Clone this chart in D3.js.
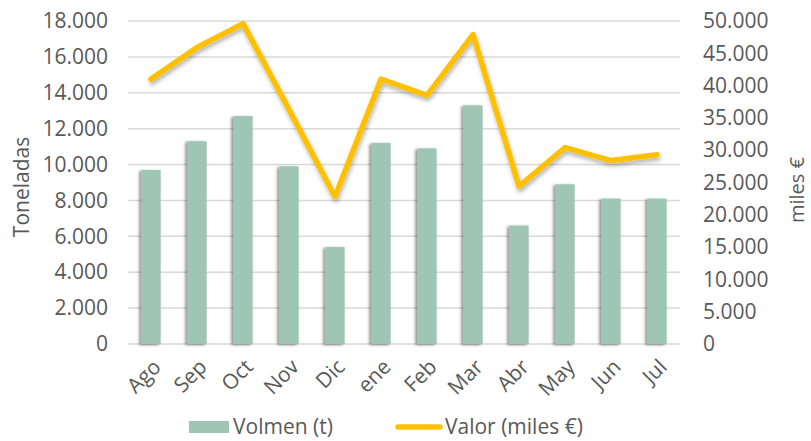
<!DOCTYPE html>
<html>
<head>
<meta charset="utf-8">
<script src="https://cdn.jsdelivr.net/npm/d3@7"></script>
<style>
  body { margin: 0; background: #fff; }
  text { font-family: "Open Sans", sans-serif; fill: #595959; }
</style>
</head>
<body>
<svg id="chart" width="811" height="441"></svg>
<script>
// data
const months = ["Ago", "Sep", "Oct", "Nov", "Dic", "ene", "Feb", "Mar", "Abr", "May", "Jun", "Jul"];
const volumen = [9700, 11300, 12700, 9900, 5400, 11200, 10900, 13300, 6600, 8900, 8100, 8100];
const valor = [41000, 45900, 49600, 36300, 22800, 41000, 38500, 47900, 24400, 30400, 28400, 29300];
const leftTicks = [0, 2000, 4000, 6000, 8000, 10000, 12000, 14000, 16000, 18000];
const rightTicks = [0, 5000, 10000, 15000, 20000, 25000, 30000, 35000, 40000, 45000, 50000];

const fmt = v => d3.format(",")(v).replace(/,/g, ".");

const margin = {top: 21, left: 128, right: 680, bottom: 344};

const svg = d3.select("#chart");

// shadows
const defs = svg.append("defs");
defs.append("filter").attr("id", "barShadow")
    .attr("x", "-50%").attr("y", "-10%").attr("width", "200%").attr("height", "130%")
  .append("feDropShadow")
    .attr("dx", -2).attr("dy", 1).attr("stdDeviation", 1.8)
    .attr("flood-color", "#000").attr("flood-opacity", 0.45);
defs.append("filter").attr("id", "lineShadow")
    .attr("x", "-10%").attr("y", "-10%").attr("width", "120%").attr("height", "130%")
  .append("feDropShadow")
    .attr("dx", 1).attr("dy", 3).attr("stdDeviation", 2)
    .attr("flood-color", "#000").attr("flood-opacity", 0.3);

// scales
const x = d3.scaleBand()
    .domain(months)
    .range([margin.left, margin.right])
    .paddingInner(0.58)
    .paddingOuter(0.29);

const yLeft = d3.scaleLinear()
    .domain([0, 18000])
    .range([margin.bottom, margin.top]);

const yRight = d3.scaleLinear()
    .domain([0, 50000])
    .range([margin.bottom, margin.top]);

// grid lines
svg.append("g")
  .selectAll("line")
  .data(leftTicks)
  .join("line")
    .attr("x1", margin.left)
    .attr("x2", margin.right)
    .attr("y1", d => yLeft(d))
    .attr("y2", d => yLeft(d))
    .attr("stroke", "#d9d9d9")
    .attr("stroke-width", 1.5);

// left axis
const leftAxis = svg.append("g")
    .attr("transform", `translate(${margin.left - 20},0)`)
    .call(d3.axisLeft(yLeft).tickValues(leftTicks).tickFormat(fmt).tickSize(0).tickPadding(0));
leftAxis.select(".domain").remove();
leftAxis.selectAll("text")
    .attr("font-size", "21px")
    .attr("font-family", "Open Sans")
    .attr("fill", "#595959");

// right axis
const rightAxis = svg.append("g")
    .attr("transform", `translate(${margin.right + 23},0)`)
    .call(d3.axisRight(yRight).tickValues(rightTicks).tickFormat(fmt).tickSize(0).tickPadding(0));
rightAxis.select(".domain").remove();
rightAxis.selectAll("text")
    .attr("font-size", "21px")
    .attr("font-family", "Open Sans")
    .attr("fill", "#595959");

// bars
svg.append("g")
  .selectAll("rect")
  .data(months)
  .join("rect")
    .attr("x", d => x(d))
    .attr("width", x.bandwidth())
    .attr("y", (d, i) => yLeft(volumen[i]))
    .attr("height", (d, i) => yLeft(0) - yLeft(volumen[i]))
    .attr("fill", "#9fc5b5")
    .attr("filter", "url(#barShadow)");

// line
svg.append("path")
    .datum(valor)
    .attr("fill", "none")
    .attr("stroke", "#ffc000")
    .attr("stroke-width", 5.5)
    .attr("stroke-linejoin", "round")
    .attr("stroke-linecap", "round")
    .attr("filter", "url(#lineShadow)")
    .attr("d", d3.line()
        .x((d, i) => x(months[i]) + x.bandwidth() / 2)
        .y(d => yRight(d)));

// x labels
svg.append("g")
  .selectAll("text")
  .data(months)
  .join("text")
    .attr("transform", d => `translate(${x(d) + x.bandwidth() / 2 + 6},${margin.bottom + 19}) rotate(-45)`)
    .attr("text-anchor", "end")
    .attr("dy", "0.35em")
    .attr("font-size", "21px")
    .text(d => d);

// axis titles
svg.append("text")
    .attr("transform", "translate(22,187) rotate(-90)")
    .attr("text-anchor", "middle")
    .attr("dy", "0.35em")
    .attr("font-size", "21px")
    .text("Toneladas");

svg.append("text")
    .attr("transform", "translate(797,190) rotate(-90)")
    .attr("text-anchor", "middle")
    .attr("dy", "0.35em")
    .attr("font-size", "20px")
    .text("miles €");

// legend
const legend = svg.append("g");
legend.append("rect")
    .attr("x", 189)
    .attr("y", 421)
    .attr("width", 40)
    .attr("height", 12)
    .attr("fill", "#9fc5b5");
legend.append("text")
    .attr("x", 233)
    .attr("y", 434)
    .attr("font-size", "21px")
    .text("Volmen (t)");
legend.append("line")
    .attr("x1", 398)
    .attr("x2", 440)
    .attr("y1", 427)
    .attr("y2", 427)
    .attr("stroke", "#ffc000")
    .attr("stroke-width", 5.5)
    .attr("stroke-linecap", "round");
legend.append("text")
    .attr("x", 445)
    .attr("y", 434)
    .attr("font-size", "21px")
    .text("Valor (miles €)");
</script>
</body>
</html>
